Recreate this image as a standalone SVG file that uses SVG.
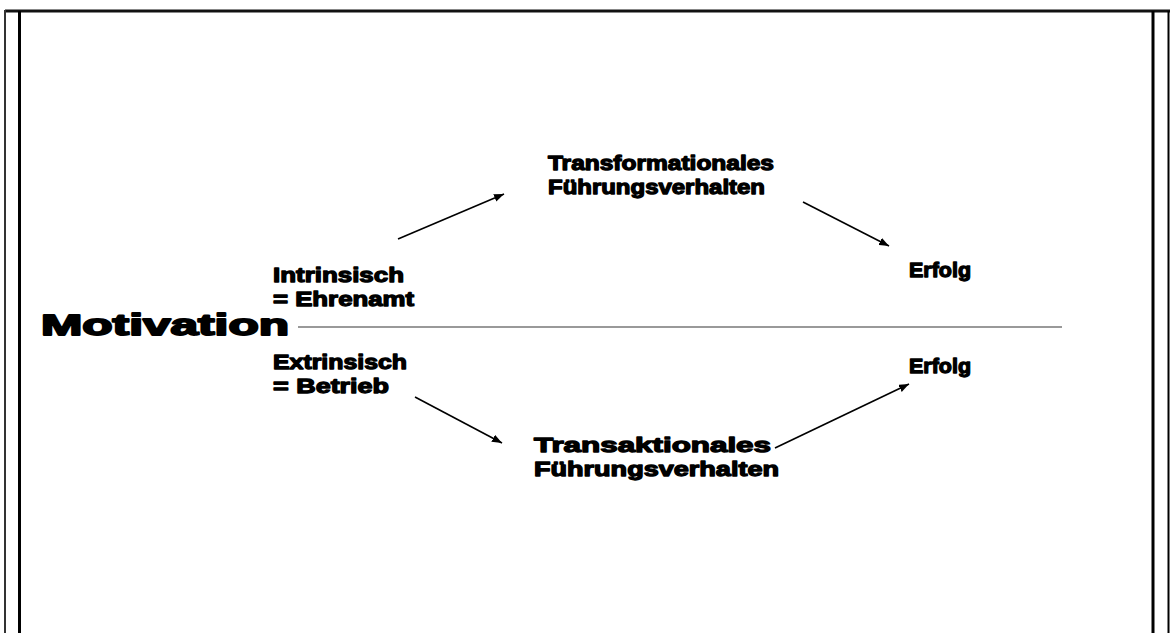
<svg xmlns="http://www.w3.org/2000/svg" width="1170" height="633" viewBox="0 0 1170 633">
<style>
.t{font-family:"Liberation Sans",Arial,sans-serif;font-weight:bold;font-size:21px;fill:#000;stroke:#000;stroke-width:1.3;stroke-linejoin:round;}
.big{font-size:29px;stroke-width:1.8;}
.c{stroke:#000;stroke-width:1.6;fill:none;}
</style>
<defs>
<marker id="ah" viewBox="0 0 10 8" refX="10" refY="4" markerWidth="10" markerHeight="8" markerUnits="userSpaceOnUse" orient="auto">
<path d="M0,0 L10,4 L0,8 Z" fill="#000"/>
</marker>
</defs>
<rect width="1170" height="633" fill="#fff"/>
<g id="frame">
<line x1="5" y1="11" x2="1170" y2="11" stroke="#111" stroke-width="3"/>
<line x1="5" y1="10" x2="5" y2="633" stroke="#333" stroke-width="2"/>
<line x1="19.5" y1="11" x2="19.5" y2="633" stroke="#000" stroke-width="3"/>
<line x1="1153" y1="11" x2="1153" y2="633" stroke="#000" stroke-width="3"/>
<line x1="1168.5" y1="11" x2="1168.5" y2="633" stroke="#000" stroke-width="2"/>
</g>
<g id="connectors">
<line x1="298" y1="327" x2="1062" y2="327" stroke="#777" stroke-width="1.5"/>
<line class="c" x1="398" y1="239" x2="504" y2="194" marker-end="url(#ah)"/>
<line class="c" x1="803" y1="202" x2="889" y2="246" marker-end="url(#ah)"/>
<line class="c" x1="415" y1="397" x2="502" y2="443" marker-end="url(#ah)"/>
<line class="c" x1="775" y1="448" x2="909" y2="384" marker-end="url(#ah)"/>
</g>
<g id="motivation"><text class="t big" x="41" y="335" textLength="248" lengthAdjust="spacingAndGlyphs">Motivation</text></g>
<g id="intrinsisch">
<text class="t" x="273" y="282" textLength="131" lengthAdjust="spacingAndGlyphs">Intrinsisch</text>
<text class="t" x="273" y="306" textLength="141" lengthAdjust="spacingAndGlyphs">= Ehrenamt</text>
</g>
<g id="extrinsisch">
<text class="t" x="273" y="369" textLength="134" lengthAdjust="spacingAndGlyphs">Extrinsisch</text>
<text class="t" x="273" y="393" textLength="116" lengthAdjust="spacingAndGlyphs">= Betrieb</text>
</g>
<g id="transformational">
<text class="t" x="548" y="170" textLength="226" lengthAdjust="spacingAndGlyphs">Transformationales</text>
<text class="t" x="548" y="194" textLength="217" lengthAdjust="spacingAndGlyphs">Führungsverhalten</text>
</g>
<g id="transaktional">
<text class="t" x="534" y="452" textLength="237" lengthAdjust="spacingAndGlyphs">Transaktionales</text>
<text class="t" x="534" y="476" textLength="245" lengthAdjust="spacingAndGlyphs">Führungsverhalten</text>
</g>
<g id="erfolg-top"><text class="t" x="909" y="277" textLength="62" lengthAdjust="spacingAndGlyphs">Erfolg</text></g>
<g id="erfolg-bottom"><text class="t" x="909" y="373" textLength="62" lengthAdjust="spacingAndGlyphs">Erfolg</text></g>
</svg>
